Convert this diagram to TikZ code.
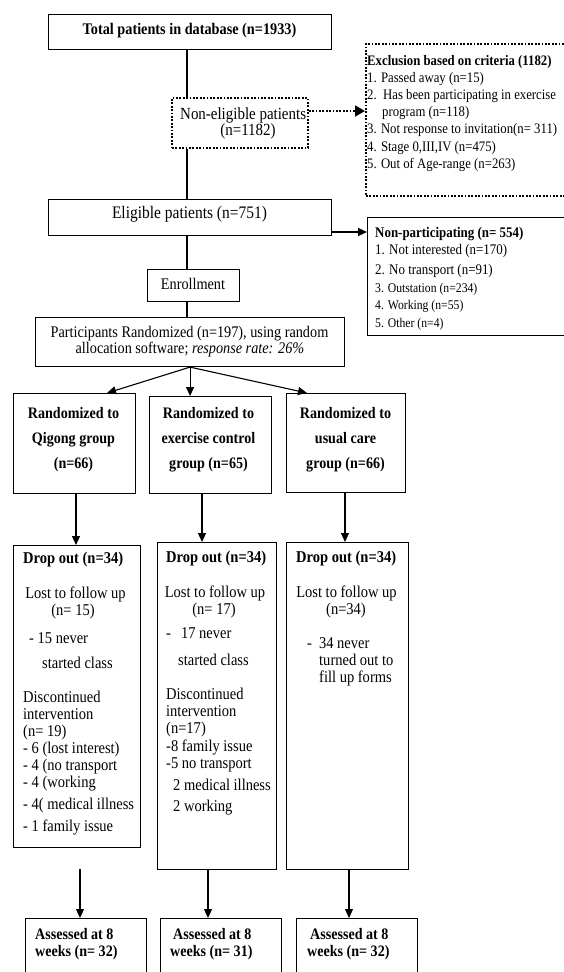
\documentclass[tikz,border=0pt]{standalone}
\usepackage{fontspec}
\setmainfont{Liberation Serif}[FakeStretch=0.88]
\usetikzlibrary{arrows.meta}
\newcommand\fsz[2]{\fontsize{#1}{#2}\selectfont}
\begin{document}
\begin{tikzpicture}[x=1pt,y=-1pt,
  bx/.style={draw,line width=1.1pt,inner sep=0pt,anchor=north west},
  dbx/.style={draw,line width=1.8pt,dash pattern=on 1.8pt off 1.6pt,inner sep=0pt,anchor=north west},
  ln/.style={line width=1.1pt},
  arr/.style={line width=1.1pt,-{Triangle[length=9pt,width=8pt]}},
  darr/.style={line width=1.8pt,dash pattern=on 1.8pt off 1.6pt,-{Triangle[length=10pt,width=11pt]}},
  tl/.style={inner sep=0pt,anchor=base west},
  tc/.style={inner sep=0pt,anchor=base},
  mn/.style={font=\fsz{16.5}{17}},
  mb/.style={font=\fsz{16.5}{17}\bfseries},
  rb/.style={font=\fsz{16}{17}\bfseries},
  sm/.style={font=\fsz{14.5}{17}},
  smb/.style={font=\fsz{14.5}{17}\bfseries},
  xs/.style={font=\fsz{13.3}{17}},
]
\useasboundingbox (0,0) rectangle (564,972);
\fill[white] (0,0) rectangle (564,972);
\clip (0,0) rectangle (564,972);

% axes
\coordinate (spine) at (187,0);
\coordinate (xA) at (76,0);
\coordinate (xB) at (202,0);
\coordinate (xC) at (345,0);
\coordinate (xB2) at (208,0);
\coordinate (xC2) at (349,0);
\coordinate (sA) at (80,869);
\coordinate (dy) at (0,111);
\coordinate (ey) at (0,232);

% boxes
\node[bx,minimum width=283pt,minimum height=35pt] (b1) at (48,14) {};
\node[dbx,minimum width=136pt,minimum height=50pt] (noneli) at (171,97) {};
\node[dbx,minimum width=215pt,minimum height=152pt] (excl) at (365,43) {};
\node[bx,minimum width=283pt,minimum height=36pt] (elig) at (48,199) {};
\node[bx,minimum width=213pt,minimum height=118pt] (npart) at (367,217) {};
\node[bx,minimum width=92pt,minimum height=32pt] (enroll) at (147,269) {};
\node[bx,minimum width=309pt,minimum height=49pt] (part) at (35,317) {};
\node[bx,minimum width=122pt,minimum height=100pt] (bA) at (13,393) {};
\node[bx,minimum width=122pt,minimum height=97pt] (bB) at (149,396) {};
\node[bx,minimum width=119pt,minimum height=99pt] (bC) at (286,393) {};
\node[bx,minimum width=127pt,minimum height=302pt] (dA) at (13,545) {};
\node[bx,minimum width=119pt,minimum height=327pt] (dB) at (157,542) {};
\node[bx,minimum width=122pt,minimum height=327pt] (dC) at (286,542) {};
\node[bx,minimum width=121pt,minimum height=70pt] (asA) at (25,918) {};
\node[bx,minimum width=121pt,minimum height=70pt] (asB) at (160,918) {};
\node[bx,minimum width=121pt,minimum height=70pt] (asC) at (296,918) {};

% texts top
\node[tc,font=\fsz{16.2}{17}\bfseries] (t1) at (189.5,34.5) {Total patients in database (n=1933)};
\begin{scope}
\clip (noneli.north west) rectangle (noneli.south east);
\node[tl,font=\fsz{17}{17}] (t2a) at (180,119) {Non-eligible patients};
\end{scope}
\node[tc,font=\fsz{17}{17}] (t2b) at (248,135.5) {(n=1182)};

\node[tl,smb] (e0) at (367,65) {Exclusion based on criteria (1182)};
\node[tl,sm] (e1) at (367,82.2) {1. Passed away (n=15)};
\node[tl,sm] (e2) at (367,99.4) {2.\ \ Has been participating in exercise};
\node[tl,sm] (e3) at (382,116.6) {program (n=118)};
\node[tl,sm] (e4) at (367,133.8) {3. Not response to invitation(n= 311)};
\node[tl,sm] (e5) at (367,151) {4. Stage 0,III,IV (n=475)};
\node[tl,sm] (e6) at (367,168.2) {5. Out of Age-range (n=263)};

\node[tc,font=\fsz{17.6}{18}] (t3) at (189.5,218.5) {Eligible patients (n=751)};

\node[tl,font=\fsz{14.7}{17}\bfseries] (n0) at (375,237) {Non-participating (n= 554)};
\node[tl,font=\fsz{14.7}{17}] (n1) at (375,254.5) {1. Not interested (n=170)};
\node[tl,font=\fsz{14.7}{17}] (n2) at (375,274.5) {2. No transport (n=91)};
\node[tl,xs] (n3) at (375,292.5) {3. Outstation (n=234)};
\node[tl,xs] (n4) at (375,309.5) {4. Working (n=55)};
\node[tl,xs] (n5) at (375,327) {5. Other (n=4)};

\node[tc,font=\fsz{16.2}{17}] (t4) at (193,289.5) {Enrollment};
\node[tc,font=\fsz{16.2}{16}] (t5a) at (189.5,337) {Participants Randomized (n=197), using random};
\node[tc,font=\fsz{16.2}{16}] (t5b) at (190,353) {allocation software; \textit{response rate: 26\%}};

% randomized texts
\node[tc,rb] (ra1) at (73.5,418) {Randomized to};
\node[tc,rb] (ra2) at (73.5,443.5) {Qigong group};
\node[tc,rb] (ra3) at (73.5,468) {(n=66)};
\node[tc,rb] (rb1) at (208.5,418) {Randomized to};
\node[tc,rb] (rb2) at (208.5,443.5) {exercise control};
\node[tc,rb] (rb3) at (208.5,468) {group (n=65)};
\node[tc,rb] (rc1) at (345.5,418) {Randomized to};
\node[tc,rb] (rc2) at (345.5,443.5) {usual care};
\node[tc,rb] (rc3) at (345.5,468) {group (n=66)};

% drop out A
\node[tl,mb] (da0) at (23,563.3) {Drop out (n=34)};
\node[tc,mn] (da1) at (75.5,598.3) {Lost to follow up};
\node[tc,mn] (da2) at (73,615) {(n= 15)};
\node[tl,mn] (da3) at (29,643.3) {- 15 never};
\node[tl,mn] (da4) at (42,668.3) {started class};
\node[tl,mn] (da5) at (23,702.5) {Discontinued};
\node[tl,mn] (da6) at (23,719.5) {intervention};
\node[tl,mn] (da7) at (23,736.5) {(n= 19)};
\node[tl,mn] (da8) at (23,753.5) {- 6 (lost interest)};
\node[tl,mn] (da9) at (23,770.5) {- 4 (no transport};
\node[tl,mn] (da10) at (23,787.5) {- 4 (working};
\begin{scope}
\clip (dA.north west) rectangle (dA.south east);
\node[tl,mn] (da11) at (23,809.5) {- 4( medical illness};
\end{scope}
\node[tl,mn] (da12) at (23,831) {- 1 family issue};

% drop out B
\node[tl,mb] (db0) at (166,562.5) {Drop out (n=34)};
\node[tc,mn] (db1) at (215,597) {Lost to follow up};
\node[tc,mn] (db2) at (214,614) {(n= 17)};
\node[tl,mn] (db3) at (166,638) {-\hspace{10pt}17 never};
\node[tl,mn] (db4) at (178,665) {started class};
\node[tl,mn] (db5) at (166,699) {Discontinued};
\node[tl,mn] (db6) at (166,716.5) {intervention};
\node[tl,mn] (db7) at (166,733.5) {(n=17)};
\node[tl,mn] (db8) at (166,751) {-8 family issue};
\node[tl,mn] (db9) at (166,768) {-5 no transport};
\node[tl,mn] (db10) at (173,790) {2 medical illness};
\node[tl,mn] (db11) at (173,811) {2 working};

% drop out C
\node[tl,mb] (dc0) at (296,562) {Drop out (n=34)};
\node[tc,mn] (dc1) at (346.5,597) {Lost to follow up};
\node[tc,mn] (dc2) at (346,614) {(n=34)};
\node[tl,mn] (dc3) at (307,648) {-\hspace{7pt}34 never};
\node[tl,mn] (dc4) at (319,665) {turned out to};
\node[tl,mn] (dc5) at (319,682) {fill up forms};

% assessed
\node[tl,rb] (aa1) at (35,939) {Assessed at 8};
\node[tl,rb] (aa2) at (35,956) {weeks (n= 32)};
\node[tl,rb] (ab1) at (173,939) {Assessed at 8};
\node[tl,rb] (ab2) at (170,956) {weeks (n= 31)};
\node[tl,rb] (ac1) at (310,939) {Assessed at 8};
\node[tl,rb] (ac2) at (307,956) {weeks (n= 32)};

% connectors
\draw[ln] (b1.south -| spine) -- (noneli.north -| spine);
\draw[ln] (noneli.south -| spine) -- (elig.north -| spine);
\draw[darr] (noneli.east |- dy) -- (excl.west |- dy);
\draw[arr] (elig.east |- ey) -- (npart.west |- ey);
\draw[ln] (elig.south -| spine) -- (enroll.north -| spine);
\draw[ln] (enroll.south -| spine) -- (part.north -| spine);
\draw[arr] (part.south) -- ([xshift=94pt]bA.north west);
\draw[arr] (part.south) -- (part.south |- bB.north);
\draw[arr] (part.south) -- ([xshift=21pt]bC.north west);
\draw[arr] (bA.south -| xA) -- (dA.north -| xA);
\draw[arr] (bB.south -| xB) -- (dB.north -| xB);
\draw[arr] (bC.south -| xC) -- (dC.north -| xC);
\draw[arr] (sA) -- (asA.north -| sA);
\draw[arr] (dB.south -| xB2) -- (asB.north -| xB2);
\draw[arr] (dC.south -| xC2) -- (asC.north -| xC2);
\end{tikzpicture}
\end{document}
